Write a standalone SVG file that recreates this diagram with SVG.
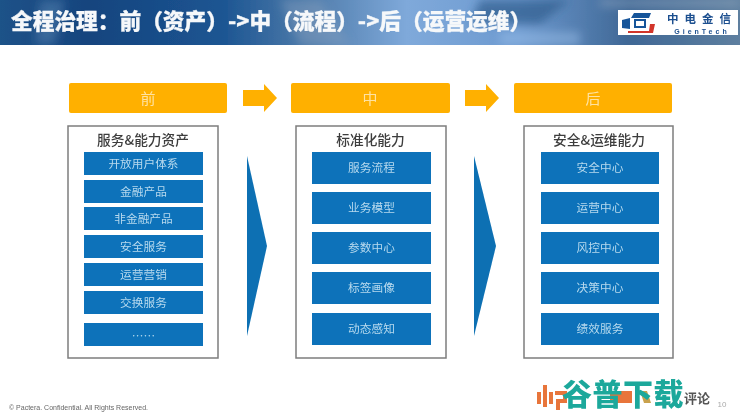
<svg xmlns="http://www.w3.org/2000/svg" width="740" height="418" viewBox="0 0 740 418">
<defs>
<linearGradient id="hdr" x1="0" y1="0" x2="1" y2="0">
<stop offset="0" stop-color="#1f5288"/><stop offset="0.12" stop-color="#15447e"/><stop offset="0.3" stop-color="#1c5592"/><stop offset="0.42" stop-color="#4f7cab"/><stop offset="0.55" stop-color="#7fa9da"/><stop offset="0.7" stop-color="#6d9ad0"/><stop offset="0.85" stop-color="#3f6795"/><stop offset="1" stop-color="#5e7f9f"/>
</linearGradient>
<filter id="soft" x="-5%" y="-5%" width="110%" height="110%"><feGaussianBlur stdDeviation="0.45"/></filter>
<filter id="wide" x="-30%" y="-30%" width="160%" height="160%"><feGaussianBlur stdDeviation="5"/></filter>
<clipPath id="hc"><rect width="740" height="45"/></clipPath>
</defs>
<style>
text{font-family:"Noto Sans CJK SC","Liberation Sans",sans-serif;text-anchor:middle}
.or{fill:#ffb000}
.hd{fill:#ffe2a0;font-size:15px}
.panel{fill:#fff;stroke:#7d7d7d;stroke-width:1.5}
.bl{fill:#0872ba}
.lb{fill:#b9d9ee;font-size:11.7px}
.pt{fill:#3d3d3d;font-size:13.7px;font-weight:500}
.tri{fill:#0b6fb3}
</style>
<rect width="740" height="418" fill="#fff"/>
<g filter="url(#soft)">
<g id="header">
<rect width="740" height="45" fill="url(#hdr)"/>
<g clip-path="url(#hc)">
<g filter="url(#wide)">
<path d="M40 0h25l-10 45h-20z" fill="#5f8bb8" opacity="0.45"/>
<path d="M280 0h40l30 45h-50z" fill="#8fa6c0" opacity="0.4"/>
<path d="M480 0h90l-30 24h-70z" fill="#2f5c8c" opacity="0.7"/>
<path d="M500 32h80v13h-80z" fill="#9cc0ea" opacity="0.5"/>
<path d="M600 0h140v6h-140z" fill="#a9bacb" opacity="0.5"/>
</g>
</g>
<text x="11" y="29" fill="#f6f8fa" font-size="21.700" font-weight="900" stroke="#f6f8fa" stroke-width="0.3" style="text-anchor:start">全程治理：前（资产）-&gt;中（流程）-&gt;后（运营运维）</text>
</g>
<g id="logo">
<rect x="618" y="10" width="120" height="25" fill="#fff"/>
<path d="M622 20l8-2v11l-8-1z" fill="#16549a"/>
<path d="M631 18l3-5h17l-2 5z" fill="#16549a"/>
<path d="M635 20h10v7h-10z" fill="none" stroke="#16549a" stroke-width="2"/>
<path d="M628 31h21l1-7h5l-2 9h-25z" fill="#d2352c"/>
<text x="702" y="23" fill="#1d4f8f" font-size="11.500" font-weight="700" letter-spacing="6">中电金信</text>
<text x="702" y="33.500" fill="#1d4f8f" font-size="7" font-weight="700" letter-spacing="3" style="font-family:'Liberation Sans',sans-serif">GienTech</text>
</g>
<g id="connectors">
<path class="or" d="M243 90h21v-6l13 14-13 14v-6h-21z"/>
<path class="or" d="M465 90h21v-6l13 14-13 14v-6h-21z"/>
<path class="tri" d="M247 156l20 90-20 90z"/>
<path class="tri" d="M474 156l22 90-22 90z"/>
</g>
<g id="head-front"><rect class="or" x="69" y="83" width="158" height="30" rx="2"/><text class="hd" x="148" y="104">前</text></g>
<g id="head-mid"><rect class="or" x="291" y="83" width="159" height="30" rx="2"/><text class="hd" x="370" y="104">中</text></g>
<g id="head-back"><rect class="or" x="514" y="83" width="158" height="30" rx="2"/><text class="hd" x="593" y="104">后</text></g>
<g id="panel-front">
<rect class="panel" x="68" y="126" width="150" height="232"/>
<text class="pt" x="143" y="144.500">服务&amp;能力资产</text>
<rect class="bl" x="84" y="152" width="119" height="23"/><text class="lb" x="143.500" y="167.500">开放用户体系</text>
<rect class="bl" x="84" y="180" width="119" height="23"/><text class="lb" x="143.500" y="195.500">金融产品</text>
<rect class="bl" x="84" y="207" width="119" height="23"/><text class="lb" x="143.500" y="222.500">非金融产品</text>
<rect class="bl" x="84" y="235" width="119" height="23"/><text class="lb" x="143.500" y="250.500">安全服务</text>
<rect class="bl" x="84" y="263" width="119" height="23"/><text class="lb" x="143.500" y="278.500">运营营销</text>
<rect class="bl" x="84" y="291" width="119" height="23"/><text class="lb" x="143.500" y="306.500">交换服务</text>
<rect class="bl" x="84" y="323" width="119" height="23"/><text class="lb" x="143.500" y="340">……</text>
</g>
<g id="panel-mid">
<rect class="panel" x="296" y="126" width="150" height="232"/>
<text class="pt" x="370.500" y="144.500">标准化能力</text>
<rect class="bl" x="312" y="152" width="119" height="32"/><text class="lb" x="371.500" y="172">服务流程</text>
<rect class="bl" x="312" y="192" width="119" height="32"/><text class="lb" x="371.500" y="212">业务模型</text>
<rect class="bl" x="312" y="232" width="119" height="32"/><text class="lb" x="371.500" y="252">参数中心</text>
<rect class="bl" x="312" y="272" width="119" height="32"/><text class="lb" x="371.500" y="292">标签画像</text>
<rect class="bl" x="312" y="313" width="119" height="32"/><text class="lb" x="371.500" y="333">动态感知</text>
</g>
<g id="panel-back">
<rect class="panel" x="524" y="126" width="149" height="232"/>
<text class="pt" x="599" y="144.500">安全&amp;运维能力</text>
<rect class="bl" x="541" y="152" width="118" height="32"/><text class="lb" x="600" y="172">安全中心</text>
<rect class="bl" x="541" y="192" width="118" height="32"/><text class="lb" x="600" y="212">运营中心</text>
<rect class="bl" x="541" y="232" width="118" height="32"/><text class="lb" x="600" y="252">风控中心</text>
<rect class="bl" x="541" y="272" width="118" height="32"/><text class="lb" x="600" y="292">决策中心</text>
<rect class="bl" x="541" y="313" width="118" height="32"/><text class="lb" x="600" y="333">绩效服务</text>
</g>
<g id="footer">
<text x="9" y="410" fill="#666" font-size="7" style="font-family:'Liberation Sans',sans-serif;text-anchor:start">© Pactera. Confidential. All Rights Reserved.</text>
<text x="722" y="407" fill="#aaa" font-size="8" style="font-family:'Liberation Sans',sans-serif">10</text>
</g>
<g id="watermark">
<path d="M537 392h4v12h-4zM543 385h4v22h-4zM549 392h4v12h-4zM555 391h12v12h-7v7h-4v-11h7v-4h-8z" fill="#e8743a"/>
<rect x="610" y="391" width="22" height="12" fill="#e8743a"/>
<path d="M640 391h7l4 12h-7z" fill="#c9a24e"/>
<text x="697" y="403" fill="#555" font-size="13" font-weight="700">评论</text>
<text x="623" y="405" fill="#1ba89b" font-size="30" font-weight="900" letter-spacing="0.500">谷普下载</text>
</g>
</g>
</svg>
